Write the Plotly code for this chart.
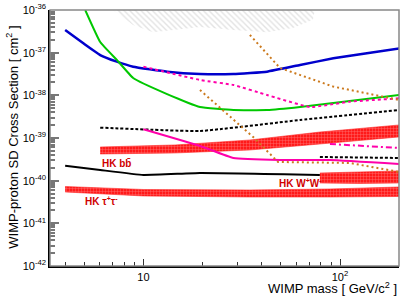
import math
import plotly.graph_objects as go

# ---- data (WIMP mass in GeV, cross section in cm^2) ----
blue_x = [4.0, 4.95, 6.03, 7.33, 8.87, 13.2, 19.4, 28.7, 42.5, 62.6, 92.5, 137, 200]
blue_y = [3.4e-37, 1.66e-37, 8.8e-38, 6.15e-38, 4.7e-38, 3.59e-38, 3.16e-38, 3.16e-38, 3.59e-38, 5.14e-38, 7.36e-38, 9.64e-38, 1.26e-37]

green_x = [5.06, 6.03, 7.33, 8.87, 13.2, 19.4, 28.7, 42.5, 62.6, 112, 200]
green_y = [1.0e-36, 1.78e-37, 6.76e-38, 2.55e-38, 1.07e-38, 5.33e-39, 4.53e-39, 4.53e-39, 5.33e-39, 7.36e-39, 1.02e-38]

magdot_x = [10, 19.4, 28.7, 42.5, 70.3, 112, 200]
magdot_y = [4.7e-38, 2.29e-38, 1.75e-38, 1.02e-38, 5.33e-39, 7.1e-39, 8.5e-39]

blkdot_x = [6.03, 19.4, 62.6, 200]
blkdot_y = [1.75e-39, 1.46e-39, 2.64e-39, 4.53e-39]

magsol_x = [10, 19.4, 28.7, 49.5, 88.9, 200]
magsol_y = [1.6e-39, 6.5e-40, 3.4e-40, 3.05e-40, 3.05e-40, 2.46e-40]

orange1_x = [34.8, 49.5, 92.5, 200]
orange1_y = [2.6e-37, 4.38e-38, 1.6e-38, 7.8e-39]

orange2_x = [19.4, 36.2, 48.4, 112, 200]
orange2_y = [1.33e-38, 1.05e-39, 2.74e-40, 2.6e-40, 1.6e-40]

blkdot2_x = [79, 200]
blkdot2_y = [3.59e-40, 3.4e-40]

magdd_x = [88.9, 200]
magdd_y = [7.23e-40, 5.83e-40]

blksol_x = [4.0, 6.03, 10, 19.4, 79]
blksol_y = [2.24e-40, 1.78e-40, 1.36e-40, 1.51e-40, 1.36e-40]

# HK bands
bb_x = [6.03, 14.5, 34.8, 79.1, 200]
bb_hi = [6.15e-40, 6.86e-40, 8.97e-40, 1.38e-39, 2.02e-39]
bb_lo = [4.22e-40, 4.46e-40, 5.24e-40, 7.24e-40, 1.06e-39]

tau_x = [4.0, 6.03, 10, 34.8, 88.9, 200]
tau_hi = [7.29e-41, 6.73e-41, 6.21e-41, 6.04e-41, 6.38e-41, 7.11e-41]
tau_lo = [5.43e-41, 4.88e-41, 4.38e-41, 4.14e-41, 4.14e-41, 4.26e-41]

ww_x = [79, 125, 200]
ww_hi = [1.51e-40, 1.58e-40, 1.69e-40]
ww_lo = [8.83e-41, 8.6e-41, 8.83e-41]

# excluded (hatched) region at the top
hatch_x = [7.0, 8.87, 11.2, 19.4, 28.7, 42.5, 57.6, 72.8, 74.5]
hatch_lo = [1.0e-36, 4.47e-37, 3.02e-37, 3.98e-37, 3.39e-37, 3.02e-37, 3.8e-37, 5.89e-37, 1.0e-36]
hatch_top = 1.0e-36

labels = ["HK b" + "b\u0304",
          "HK \u03c4<sup>+</sup>\u03c4<sup>-</sup>",
          "HK W<sup>+</sup>W<sup>-</sup>"]
label_x = [6.03, 4.93, 47.9]
label_y = [2.59e-40, 3.34e-41, 8.83e-41]

x_tickvals = [10, 100]
x_ticktext = ["10", "10<sup>2</sup>"]
y_tickvals = [1e-42, 1e-41, 1e-40, 1e-39, 1e-38, 1e-37, 1e-36]
y_ticktext = ["10<sup>-42</sup>", "10<sup>-41</sup>", "10<sup>-40</sup>", "10<sup>-39</sup>",
              "10<sup>-38</sup>", "10<sup>-37</sup>", "10<sup>-36</sup>"]

fig = go.Figure()

# hatched region
fig.add_trace(go.Scatter(
    x=hatch_x + hatch_x[::-1],
    y=hatch_lo + [hatch_top] * len(hatch_x),
    fill="toself", mode="none", fillcolor="rgba(0,0,0,0)",
    fillpattern=dict(shape="\\", fgcolor="#c8c8c8", bgcolor="rgba(0,0,0,0)", size=4, solidity=0.35),
    hoverinfo="skip", showlegend=False))

def band(xs, hi, lo):
    fig.add_trace(go.Scatter(
        x=xs + xs[::-1], y=hi + lo[::-1],
        fill="toself", mode="lines", line=dict(color="rgba(255,40,40,0.6)", width=1),
        fillcolor="#ff1a1a",
        fillpattern=dict(shape="+", fgcolor="#ffd0d0", size=3, solidity=0.25, fillmode="overlay"),
        hoverinfo="skip", showlegend=False))

band(bb_x, bb_hi, bb_lo)
band(tau_x, tau_hi, tau_lo)

def line(xs, ys, color, width, dash="solid", smooth=True):
    ln = dict(color=color, width=width, dash=dash)
    if smooth:
        ln.update(shape="spline", smoothing=0.35)
    fig.add_trace(go.Scatter(x=xs, y=ys, mode="lines", line=ln,
                             hoverinfo="skip", showlegend=False))

line(blksol_x, blksol_y, "black", 2)
band(ww_x, ww_hi, ww_lo)
line(blue_x, blue_y, "#0000cc", 2.5)
line(green_x, green_y, "#00c800", 2)
line(magdot_x, magdot_y, "#ff00aa", 2, "3px,3px")
line(blkdot_x, blkdot_y, "black", 2, "3px,2px")
line(magsol_x, magsol_y, "#ff00aa", 2)
line(orange1_x, orange1_y, "#cc7a1e", 2, "2px,3px", smooth=False)
line(orange2_x, orange2_y, "#cc7a1e", 2, "2px,3px", smooth=False)
line(blkdot2_x, blkdot2_y, "black", 2, "3px,2px", smooth=False)
line(magdd_x, magdd_y, "#ff00aa", 2, "6px,3px,2px,3px", smooth=False)

for t, lx, ly in zip(labels, label_x, label_y):
    fig.add_annotation(x=math.log10(lx), y=math.log10(ly), xref="x", yref="y",
                       text="<b>" + t + "</b>", showarrow=False,
                       xanchor="left", yanchor="middle",
                       font=dict(family="Liberation Sans, Arial", size=10, color="#d00000"))

font = dict(family="Liberation Sans, Arial", size=11, color="black")
tfont = dict(family="Liberation Sans, Arial", size=13, color="black")

fig.add_annotation(xref="paper", yref="paper", x=-0.109, y=0.505,
                   text="WIMP-proton SD Cross Section [ cm<sup>2</sup> ]", textangle=-90,
                   showarrow=False, font=tfont, xanchor="center", yanchor="middle")
fig.add_annotation(xref="paper", yref="paper", x=1.0, y=-0.086,
                   text="WIMP mass [ GeV/c<sup>2</sup> ]", showarrow=False, font=tfont,
                   xanchor="right", yanchor="middle")

# frame
fig.add_shape(type="rect", xref="paper", yref="paper", x0=0, y0=0, x1=1, y1=1,
              line=dict(color="#888888", width=1.5), layer="above")

x_minor = [v * 10 ** k for k in (0, 1, 2) for v in range(2, 10) if 3.35 <= v * 10 ** k <= 200]
y_minor = [v * 10.0 ** k for k in range(-42, -36) for v in range(2, 10)]

fig.update_xaxes(type="log", range=[0.525, 2.3], tickmode="array", tickvals=x_tickvals, ticktext=x_ticktext,
                 ticks="inside", ticklen=7, tickcolor="#333", tickwidth=1, automargin=False,
                 showline=True, linecolor="black", linewidth=1.5, showgrid=False, zeroline=False,
                 tickfont=font, minor=dict(tickvals=x_minor, ticks="inside", ticklen=4, tickcolor="#333"))
fig.update_yaxes(type="log", range=[-42, -36], tickmode="array", tickvals=y_tickvals, ticktext=y_ticktext,
                 ticks="inside", ticklen=9, tickcolor="#777", tickwidth=1.5, automargin=False,
                 showline=True, linecolor="black", linewidth=1.5, showgrid=False, zeroline=False,
                 tickfont=font, minor=dict(tickvals=y_minor, ticks="inside", ticklen=5, tickcolor="#777", tickwidth=1.5))

fig.update_layout(width=402, height=302, margin=dict(l=50, r=3, t=10, b=36),
                  plot_bgcolor="white", paper_bgcolor="white", showlegend=False)

fig.write_html("out.html", config={"displayModeBar": False},
               post_script="document.body.style.margin='0';document.body.style.overflow='hidden';")
